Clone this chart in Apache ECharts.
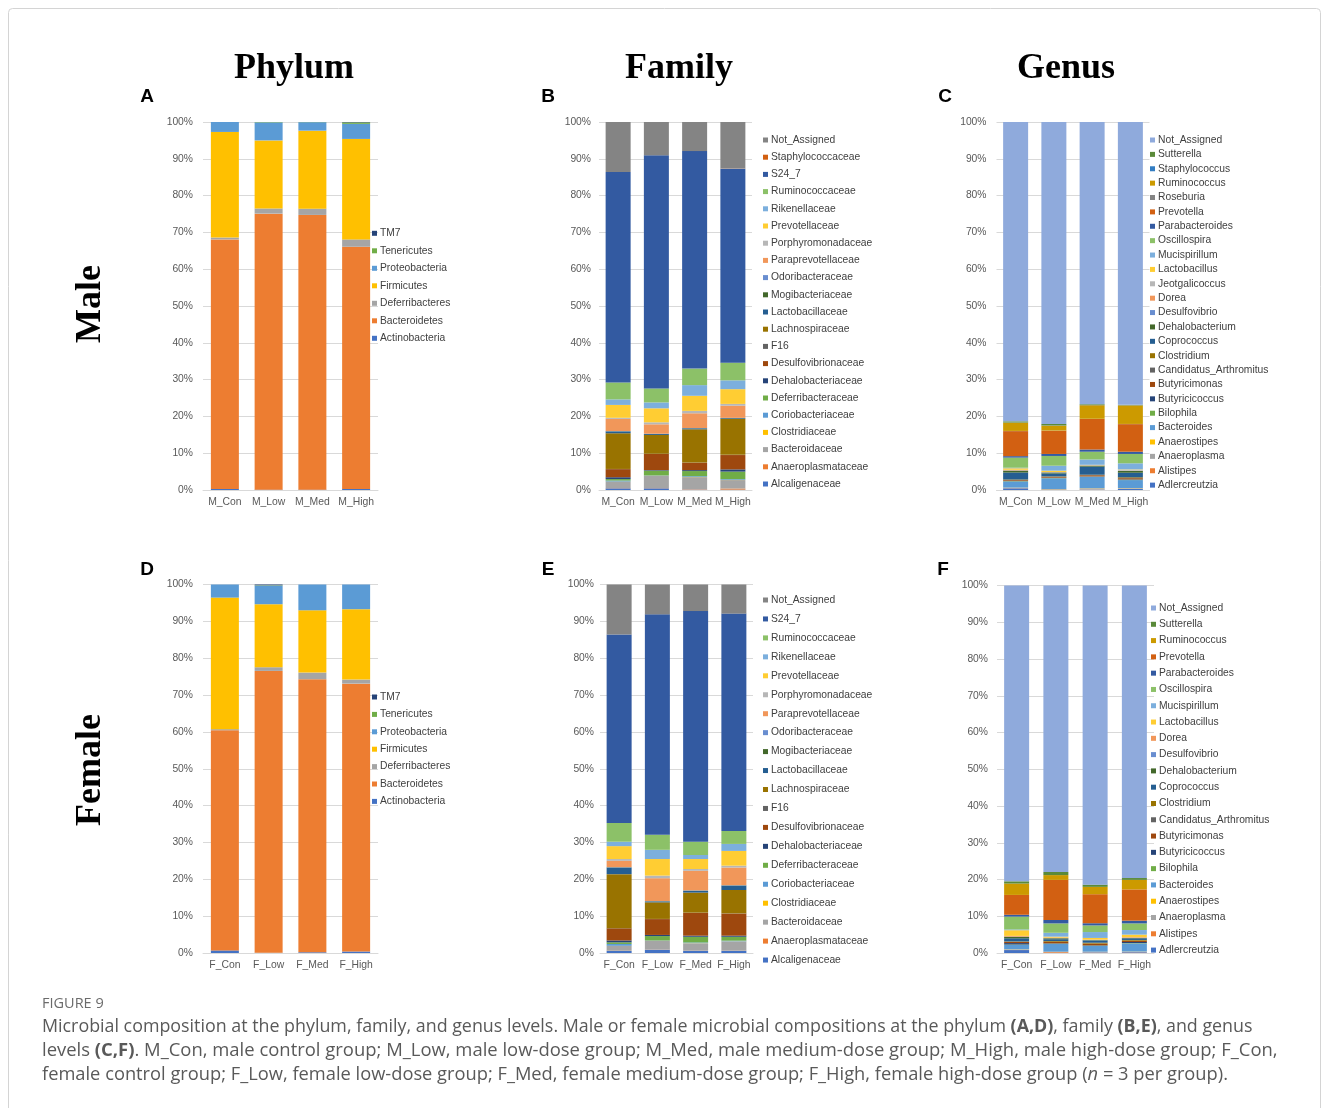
<!DOCTYPE html>
<html>
<head>
<meta charset="utf-8">
<script src="https://cdn.jsdelivr.net/npm/echarts/dist/echarts.min.js"></script>
<style>
html,body{margin:0;padding:0;background:#fff;}
#chart{width:1329px;height:1108px;}
</style>
</head>
<body>
<div id="chart"></div>
<script>
// ---------- DATA ----------
const groupsMale = ['M_Con', 'M_Low', 'M_Med', 'M_High'];
const groupsFemale = ['F_Con', 'F_Low', 'F_Med', 'F_High'];
const percentTicks = [0, 10, 20, 30, 40, 50, 60, 70, 80, 90, 100];

// Phylum (bottom of stack -> top)
const phylumNames = ['Actinobacteria', 'Bacteroidetes', 'Deferribacteres', 'Firmicutes', 'Proteobacteria', 'Tenericutes', 'TM7'];
const phylumMale = [
  [0.3, 0.1, 0.1, 0.3],
  [67.8, 75.0, 74.65, 65.8],
  [0.5, 1.4, 1.7, 2.0],
  [28.7, 18.5, 21.2, 27.3],
  [2.7, 4.9, 2.3, 4.1],
  [0.0, 0.1, 0.05, 0.4],
  [0.0, 0.0, 0.0, 0.1]
];
const phylumFemale = [
  [0.7, 0.05, 0.2, 0.4],
  [59.75, 76.5, 74.1, 72.7],
  [0.3, 1.0, 1.8, 1.1],
  [35.7, 17.1, 16.9, 19.1],
  [3.55, 5.05, 7.0, 6.7],
  [0.0, 0.1, 0.0, 0.0],
  [0.0, 0.2, 0.0, 0.0]
];

// Family
const familyNamesMale = ['Alcaligenaceae', 'Anaeroplasmataceae', 'Bacteroidaceae', 'Clostridiaceae', 'Coriobacteriaceae', 'Deferribacteraceae', 'Dehalobacteriaceae', 'Desulfovibrionaceae', 'F16', 'Lachnospiraceae', 'Lactobacillaceae', 'Mogibacteriaceae', 'Odoribacteraceae', 'Paraprevotellaceae', 'Porphyromonadaceae', 'Prevotellaceae', 'Rikenellaceae', 'Ruminococcaceae', 'S24_7', 'Staphylococcaceae', 'Not_Assigned'];
const familyMale = [
  [0.45, 0.45, 0.1, 0.1],
  [0.05, 0.05, 0.1, 0.3],
  [1.67, 3.3, 3.3, 2.3],
  [0.1, 0.05, 0.05, 0.05],
  [0.3, 0.1, 0.2, 0.2],
  [0.4, 1.3, 1.4, 2.05],
  [0.5, 0.15, 0.25, 0.6],
  [2.2, 4.4, 2.0, 3.9],
  [0.05, 0.05, 0.05, 0.05],
  [9.7, 5.1, 9.05, 9.75],
  [0.5, 0.25, 0.25, 0.2],
  [0.05, 0.05, 0.05, 0.05],
  [0.05, 0.05, 0.05, 0.05],
  [3.3, 2.55, 4.0, 3.3],
  [0.3, 0.55, 0.65, 0.5],
  [3.5, 3.8, 4.1, 4.0],
  [1.5, 1.6, 2.9, 2.4],
  [4.6, 3.8, 4.5, 4.8],
  [57.2, 63.35, 59.1, 52.7],
  [0.0, 0.0, 0.0, 0.05],
  [13.58, 9.05, 7.9, 12.65]
];
const familyNamesFemale = ['Alcaligenaceae', 'Anaeroplasmataceae', 'Bacteroidaceae', 'Clostridiaceae', 'Coriobacteriaceae', 'Deferribacteraceae', 'Dehalobacteriaceae', 'Desulfovibrionaceae', 'F16', 'Lachnospiraceae', 'Lactobacillaceae', 'Mogibacteriaceae', 'Odoribacteraceae', 'Paraprevotellaceae', 'Porphyromonadaceae', 'Prevotellaceae', 'Rikenellaceae', 'Ruminococcaceae', 'S24_7', 'Not_Assigned'];
const familyFemale = [
  [0.55, 0.9, 0.6, 0.6],
  [0.05, 0.05, 0.05, 0.05],
  [1.3, 2.3, 1.95, 2.45],
  [0.05, 0.05, 0.05, 0.05],
  [0.5, 0.1, 0.2, 0.2],
  [0.45, 1.2, 1.55, 1.05],
  [0.5, 0.3, 0.3, 0.3],
  [3.3, 4.3, 6.2, 6.0],
  [0.05, 0.05, 0.05, 0.05],
  [14.65, 4.5, 5.45, 6.35],
  [1.8, 0.25, 0.5, 1.2],
  [0.05, 0.05, 0.05, 0.05],
  [0.05, 0.05, 0.05, 0.05],
  [1.7, 6.2, 5.3, 4.8],
  [0.5, 0.7, 0.5, 0.5],
  [3.5, 4.5, 2.7, 4.0],
  [1.2, 2.5, 1.1, 1.9],
  [5.1, 4.1, 3.6, 3.5],
  [51.1, 59.8, 62.6, 59.0],
  [13.6, 8.1, 7.2, 7.9]
];

// Genus
const genusNamesMale = ['Adlercreutzia', 'Alistipes', 'Anaeroplasma', 'Anaerostipes', 'Bacteroides', 'Bilophila', 'Butyricicoccus', 'Butyricimonas', 'Candidatus_Arthromitus', 'Clostridium', 'Coprococcus', 'Dehalobacterium', 'Desulfovibrio', 'Dorea', 'Jeotgalicoccus', 'Lactobacillus', 'Mucispirillum', 'Oscillospira', 'Parabacteroides', 'Prevotella', 'Roseburia', 'Ruminococcus', 'Staphylococcus', 'Sutterella', 'Not_Assigned'];
const genusMale = [
  [0.45, 0.1, 0.1, 0.3],
  [0.05, 0.05, 0.05, 0.05],
  [0.1, 0.05, 0.3, 0.1],
  [0.05, 0.05, 0.05, 0.05],
  [1.65, 2.95, 3.1, 2.2],
  [0.1, 0.1, 0.05, 0.1],
  [0.05, 0.05, 0.05, 0.1],
  [0.2, 0.2, 0.3, 0.3],
  [0.05, 0.05, 0.05, 0.05],
  [0.15, 0.1, 0.1, 0.2],
  [1.9, 0.8, 2.2, 1.25],
  [0.5, 0.25, 0.25, 0.5],
  [0.05, 0.05, 0.05, 0.05],
  [0.1, 0.05, 0.05, 0.05],
  [0.1, 0.05, 0.05, 0.2],
  [0.4, 0.35, 0.1, 0.1],
  [0.15, 1.35, 1.45, 1.65],
  [2.75, 2.65, 2.1, 2.55],
  [0.4, 0.55, 0.6, 0.6],
  [6.8, 6.3, 8.3, 7.5],
  [0.05, 0.05, 0.05, 0.05],
  [2.25, 1.35, 3.7, 5.05],
  [0.05, 0.05, 0.05, 0.05],
  [0.3, 0.4, 0.2, 0.1],
  [81.35, 82.05, 76.7, 76.85]
];
const genusNamesFemale = ['Adlercreutzia', 'Alistipes', 'Anaeroplasma', 'Anaerostipes', 'Bacteroides', 'Bilophila', 'Butyricicoccus', 'Butyricimonas', 'Candidatus_Arthromitus', 'Clostridium', 'Coprococcus', 'Dehalobacterium', 'Desulfovibrio', 'Dorea', 'Lactobacillus', 'Mucispirillum', 'Oscillospira', 'Parabacteroides', 'Prevotella', 'Ruminococcus', 'Sutterella', 'Not_Assigned'];
const genusFemale = [
  [0.8, 0.05, 0.15, 0.2],
  [0.05, 0.2, 0.05, 0.05],
  [0.1, 0.05, 0.1, 0.1],
  [0.05, 0.05, 0.05, 0.05],
  [1.2, 2.1, 1.55, 2.2],
  [0.1, 0.1, 0.1, 0.1],
  [0.4, 0.1, 0.1, 0.3],
  [0.3, 0.35, 0.4, 0.3],
  [0.05, 0.05, 0.05, 0.05],
  [0.1, 0.2, 0.25, 0.2],
  [0.85, 0.5, 0.6, 0.45],
  [0.4, 0.25, 0.1, 0.1],
  [0.05, 0.05, 0.05, 0.05],
  [0.2, 0.15, 0.1, 0.15],
  [1.55, 0.25, 0.45, 0.7],
  [0.2, 1.05, 1.6, 1.25],
  [3.5, 2.55, 1.8, 1.8],
  [0.5, 0.95, 0.6, 0.75],
  [5.4, 10.9, 7.9, 8.5],
  [3.1, 1.3, 2.0, 2.6],
  [0.6, 0.85, 0.6, 0.5],
  [80.5, 77.95, 81.4, 79.6]
];

// Office series colour sequence
const officePalette = ['#4472C4', '#ED7D31', '#A5A5A5', '#FFC000', '#5B9BD5', '#70AD47', '#264478', '#9E480E', '#636363', '#997300', '#255E91', '#43682B', '#698ED0', '#F1975A', '#B7B7B7', '#FFCD33', '#7CAFDD', '#8CC168', '#335AA1', '#D26012', '#848484', '#CC9A00', '#327DC2', '#5A8A39', '#8FAADC'];

// ---------- LAYOUT ----------
const FONT = 'Liberation Sans, Arial, sans-serif';
const TXT = '#404040';
const AX = '#595959';
const GRIDC = '#d9d9d9';

function colorFor(refNames, name) {
  return officePalette[refNames.indexOf(name) % officePalette.length];
}

const panels = [
  { key: 'A', names: phylumNames, ref: phylumNames, values: phylumMale, groups: groupsMale,
    grid: { left: 203, top: 122, width: 175, height: 368 }, barWidth: 28, yMargin: 10,
    legend: { left: 372, first: 233.3, step: 17.5 } },
  { key: 'B', names: familyNamesMale, ref: familyNamesMale, values: familyMale, groups: groupsMale,
    grid: { left: 599, top: 122, width: 153, height: 368 }, barWidth: 25, yMargin: 8,
    legend: { left: 763, first: 140, step: 17.2 } },
  { key: 'C', names: genusNamesMale, ref: genusNamesMale, values: genusMale, groups: groupsMale,
    grid: { left: 996.5, top: 122, width: 153, height: 368 }, barWidth: 25, yMargin: 10,
    legend: { left: 1150, first: 140, step: 14.38 } },
  { key: 'D', names: phylumNames, ref: phylumNames, values: phylumFemale, groups: groupsFemale,
    grid: { left: 203, top: 584.5, width: 175, height: 368.5 }, barWidth: 28, yMargin: 10,
    legend: { left: 372, first: 697, step: 17.4 } },
  { key: 'E', names: familyNamesFemale, ref: familyNamesMale, values: familyFemale, groups: groupsFemale,
    grid: { left: 600, top: 584.5, width: 153, height: 368.5 }, barWidth: 25, yMargin: 6,
    legend: { left: 763, first: 600, step: 18.95 } },
  { key: 'F', names: genusNamesFemale, ref: genusNamesMale, values: genusFemale, groups: groupsFemale,
    grid: { left: 997, top: 585.5, width: 157, height: 367.5 }, barWidth: 25, yMargin: 9,
    legend: { left: 1151, first: 608, step: 16.29 } }
];

const LH = 12;
const grids = [], xAxes = [], yAxes = [], legends = [], series = [];
panels.forEach((p, i) => {
  grids.push(Object.assign({ outerBoundsMode: 'none', containLabel: false }, p.grid));
  xAxes.push({
    type: 'category', gridIndex: i, data: p.groups,
    axisTick: { show: false },
    axisLine: { lineStyle: { color: GRIDC, width: 1 } },
    axisLabel: { interval: 0, margin: 7, fontSize: 10.4, color: AX, fontFamily: FONT },
    splitLine: { show: false }
  });
  yAxes.push({
    type: 'value', gridIndex: i, min: percentTicks[0], max: percentTicks[percentTicks.length - 1], interval: 10,
    axisLine: { show: false }, axisTick: { show: false },
    axisLabel: { margin: p.yMargin, fontSize: 10.3, color: AX, fontFamily: FONT, formatter: '{value}%' },
    splitLine: { lineStyle: { color: GRIDC, width: 1 } }
  });
  legends.push({
    orient: 'vertical', left: p.legend.left, top: p.legend.first - LH / 2,
    padding: 0, itemGap: p.legend.step - LH, itemWidth: 5, itemHeight: 5,
    icon: 'rect', selectedMode: false,
    itemStyle: { borderWidth: 0 },
    data: p.names.slice().reverse().map(n => p.key + '|' + n),
    formatter: n => n.split('|')[1],
    textStyle: { fontSize: 10.3, color: TXT, fontFamily: FONT, lineHeight: LH, padding: [0, 0, 0, -2] }
  });
  p.names.forEach((name, j) => {
    series.push({
      type: 'bar', name: p.key + '|' + name, stack: p.key,
      xAxisIndex: i, yAxisIndex: i, barWidth: p.barWidth,
      data: p.values[j],
      itemStyle: { color: colorFor(p.ref, name), borderWidth: 0 },
      emphasis: { disabled: true }, silent: true
    });
  });
});

const headFont = 'Liberation Serif, Times New Roman, serif';
const capFont = 'Open Sans, Liberation Sans, sans-serif';
const CAPC = '#595959';
function txt(x, y, text, extra) {
  return { type: 'text', x: x, y: y, silent: true,
    style: Object.assign({ text: text, align: 'center', verticalAlign: 'middle' }, extra) };
}
function capRich(size) {
  return {
    r: { fontFamily: capFont, fontSize: size, fill: CAPC, color: CAPC },
    b: { fontFamily: capFont, fontSize: size, fill: CAPC, color: CAPC, fontWeight: 'bold' },
    i: { fontFamily: capFont, fontSize: size, fill: CAPC, color: CAPC, fontStyle: 'italic' }
  };
}
const graphics = [
  { type: 'rect', silent: true, shape: { x: 8.5, y: 8.5, width: 1312, height: 1130, r: 4 },
    style: { fill: 'none', stroke: '#d4d4d4', lineWidth: 1 } },
  txt(294, 69, 'Phylum', { font: 'bold 36px ' + headFont, fill: '#000' }),
  txt(679, 69, 'Family', { font: 'bold 36px ' + headFont, fill: '#000' }),
  txt(1066, 69, 'Genus', { font: 'bold 36px ' + headFont, fill: '#000' }),
  Object.assign(txt(91, 304, 'Male', { font: 'bold 36px ' + headFont, fill: '#000' }), { rotation: Math.PI / 2 }),
  Object.assign(txt(91, 770, 'Female', { font: 'bold 36px ' + headFont, fill: '#000' }), { rotation: Math.PI / 2 }),
  txt(147, 97, 'A', { font: 'bold 19px ' + FONT, fill: '#000' }),
  txt(548, 97, 'B', { font: 'bold 19px ' + FONT, fill: '#000' }),
  txt(945, 97, 'C', { font: 'bold 19px ' + FONT, fill: '#000' }),
  txt(147, 570, 'D', { font: 'bold 19px ' + FONT, fill: '#000' }),
  txt(548, 570, 'E', { font: 'bold 19px ' + FONT, fill: '#000' }),
  txt(943, 570, 'F', { font: 'bold 19px ' + FONT, fill: '#000' }),
  txt(42, 1004, 'FIGURE 9', { font: '14.5px ' + capFont, fill: '#6b6b6b', align: 'left' }),
  txt(42, 1027, '{r|Microbial composition at the phylum, family, and genus levels. Male or female microbial compositions at the phylum }{b|(A,D)}{r|, family }{b|(B,E)}{r|, and genus}', { rich: capRich(17.85), align: 'left' }),
  txt(42, 1051, '{r|levels }{b|(C,F)}{r|. M_Con, male control group; M_Low, male low-dose group; M_Med, male medium-dose group; M_High, male high-dose group; F_Con,}', { rich: capRich(18.45), align: 'left' }),
  txt(42, 1075, '{r|female control group; F_Low, female low-dose group; F_Med, female medium-dose group; F_High, female high-dose group (}{i|n}{r| = 3 per group).}', { rich: capRich(18.3), align: 'left' })
];

const chart = echarts.init(document.getElementById('chart'), null, { renderer: 'canvas' });
chart.setOption({
  backgroundColor: '#ffffff',
  animation: false,
  grid: grids, xAxis: xAxes, yAxis: yAxes, legend: legends, series: series,
  graphic: graphics,
  tooltip: { show: false }
});
</script>
</body>
</html>
